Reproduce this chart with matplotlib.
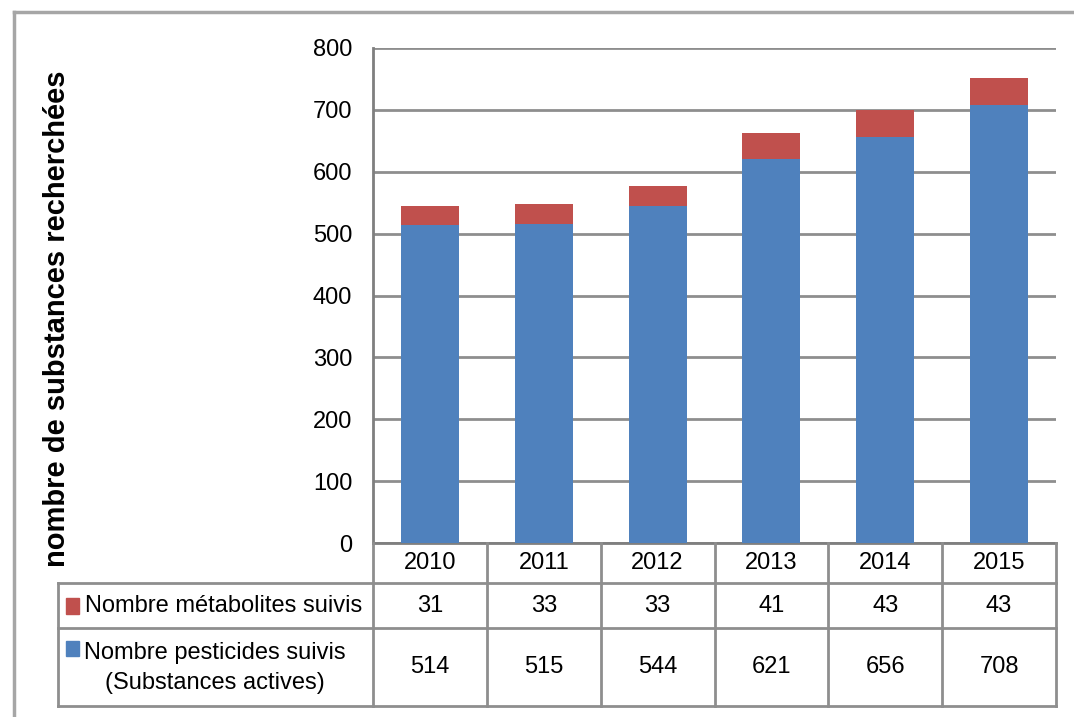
"""
Nombre de substances recherchées par année, avec tableau de données.
"""

import matplotlib.pyplot as plt
import matplotlib.transforms as mtransforms
from matplotlib.lines import Line2D
from matplotlib.patches import Rectangle

years = ["2010", "2011", "2012", "2013", "2014", "2015"]
pesticides = [514, 515, 544, 621, 656, 708]
metabolites = [31, 33, 33, 41, 43, 43]
label_metabolites = "Nombre métabolites suivis"
label_pesticides = "Nombre pesticides suivis\n(Substances actives)"
y_label = "nombre de substances recherchées"
y_ticks = [0, 100, 200, 300, 400, 500, 600, 700, 800]

BLUE = "#4f81bd"
RED = "#c0504d"
GRID = "#8e8e8e"
FONT = "Liberation Sans"
FS = 17

W, H = 1074, 717
fig = plt.figure(figsize=(W / 100, H / 100), dpi=100)
plt.rcParams["font.family"] = FONT


def fx(x):
    return x / W


def fy(y):
    return 1 - y / H


ax = fig.add_axes([fx(373), fy(543), fx(1056) - fx(373), fy(48) - fy(543)])
x = list(range(len(years)))
ax.bar(x, pesticides, width=0.51, color=BLUE, zorder=3)
ax.bar(x, metabolites, bottom=pesticides, width=0.51, color=RED, zorder=3)

ax.set_xlim(-0.5, len(years) - 0.5)
ax.set_ylim(0, 800)
ax.set_yticks(y_ticks)
ax.set_yticklabels([str(v) for v in y_ticks], fontsize=FS)
ax.set_xticks([])
ax.tick_params(axis="y", length=0, pad=15)
ax.grid(axis="y", color=GRID, linewidth=2, zorder=0)
ax.set_axisbelow(True)
for side in ("top", "right"):
    ax.spines[side].set_visible(False)
for side in ("left", "bottom"):
    ax.spines[side].set_color("#7f7f7f")
    ax.spines[side].set_linewidth(2)

fig.text(fx(57), fy(319), y_label, rotation=90, ha="center", va="center",
         fontweight="bold", fontsize=21)

# Data table below the axes.
blend = mtransforms.blended_transform_factory(ax.transData, fig.transFigure)
line_kw = dict(color=GRID, linewidth=2)

for i in range(len(years) + 1):
    fig.add_artist(Line2D([i - 0.5, i - 0.5], [fy(543), fy(706)],
                          transform=blend, **line_kw))
for yy in (583, 628, 706):
    fig.add_artist(Line2D([fx(58), fx(1056)], [fy(yy), fy(yy)],
                          transform=fig.transFigure, **line_kw))
fig.add_artist(Line2D([fx(58), fx(58)], [fy(583), fy(706)],
                      transform=fig.transFigure, **line_kw))

for i, year in enumerate(years):
    fig.text(i, fy(563), year, transform=blend, ha="center", va="center",
             fontsize=FS)
    fig.text(i, fy(606), str(metabolites[i]), transform=blend, ha="center",
             va="center", fontsize=FS)
    fig.text(i, fy(667), str(pesticides[i]), transform=blend, ha="center",
             va="center", fontsize=FS)

fig.add_artist(Rectangle((fx(66), fy(614)), fx(13), fy(598) - fy(614),
                         color=RED, transform=fig.transFigure))
fig.text(fx(85), fy(606), label_metabolites, ha="left", va="center",
         fontsize=FS)
fig.add_artist(Rectangle((fx(66), fy(656)), fx(13), fy(641) - fy(656),
                         color=BLUE, transform=fig.transFigure))
fig.text(fx(215), fy(668), label_pesticides, ha="center", va="center",
         fontsize=FS, multialignment="center", linespacing=1.5)

# Outer frame.
frame_kw = dict(color="#a6a6a6", linewidth=2.5, transform=fig.transFigure)
fig.add_artist(Line2D([fx(14), 1], [fy(12), fy(12)], **frame_kw))
fig.add_artist(Line2D([fx(14), fx(14)], [fy(12), 0], **frame_kw))

fig.savefig("out.png", dpi=100)
